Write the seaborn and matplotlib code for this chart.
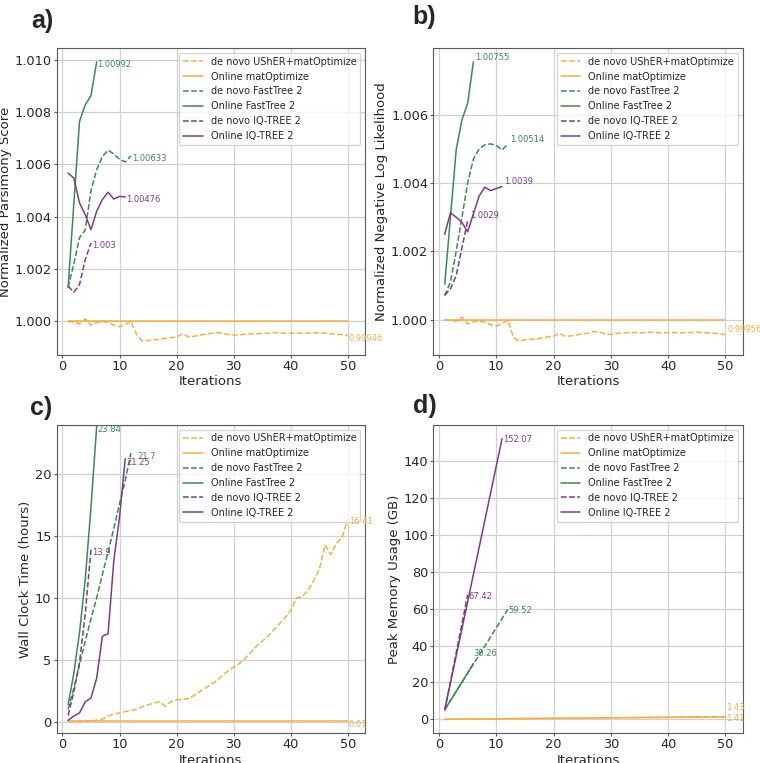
import pandas as pd
import matplotlib as mpl
from matplotlib import pyplot as plt
from matplotlib.ticker import FormatStrFormatter, MultipleLocator
import seaborn as sns

methods = ['de novo UShER+matOptimize', 'Online matOptimize', 'de novo FastTree 2',
           'Online FastTree 2', 'de novo IQ-TREE 2', 'Online IQ-TREE 2']

# a) normalized parsimony score
pars_usher = [1.0, 0.99998, 0.9999, 1.0001, 0.99985, 0.99995, 1.0, 0.99997, 0.99985, 0.9998,
              0.99988, 1.0, 0.9995, 0.99925, 0.99927, 0.9993, 0.99931, 0.99935, 0.99938, 0.9994,
              0.99953, 0.99942, 0.99943, 0.99948, 0.99951, 0.99954, 0.99957, 0.99955, 0.9995, 0.99948,
              0.99949, 0.99951, 0.99953, 0.99953, 0.99954, 0.99955, 0.99957, 0.99956, 0.99955, 0.99955,
              0.99956, 0.99955, 0.99955, 0.99957, 0.99956, 0.99955, 0.99953, 0.99951, 0.9995, 0.99946]
pars_online_mat = [1.0] * 50
pars_dn_ft = [1.0013, 1.0022, 1.0032, 1.0035, 1.005, 1.0058, 1.0063, 1.00655, 1.0064, 1.0062, 1.0061, 1.00633]
pars_on_ft = [1.0013, 1.0045, 1.00765, 1.00828, 1.00863, 1.00992]
pars_dn_iq = [1.00135, 1.00112, 1.00141, 1.00237, 1.003]
pars_on_iq = [1.00567, 1.00548, 1.00453, 1.00408, 1.00351, 1.00421, 1.00466, 1.00494, 1.00468, 1.00478, 1.00476]

# b) normalized negative log likelihood
lik_usher = [1.0, 0.99998, 0.99995, 1.00007, 0.99987, 0.99993, 0.99997, 0.99992, 0.99985, 0.99981,
             0.99988, 0.99998, 0.99948, 0.99937, 0.99941, 0.99942, 0.99943, 0.99946, 0.99949, 0.99951,
             0.9996, 0.99951, 0.99952, 0.99955, 0.99958, 0.9996, 0.99965, 0.99963, 0.99958, 0.99956,
             0.99959, 0.99961, 0.99962, 0.99962, 0.99961, 0.99962, 0.99963, 0.99962, 0.99961, 0.99962,
             0.99962, 0.99961, 0.99962, 0.99962, 0.99963, 0.99962, 0.99961, 0.9996, 0.99958, 0.99956]
lik_online_mat = [1.0] * 50
lik_dn_ft = [1.0007, 1.0011, 1.002, 1.003, 1.004, 1.0047, 1.005, 1.00512, 1.00515, 1.0051, 1.00497, 1.00514]
lik_on_ft = [1.00104, 1.003, 1.00498, 1.00585, 1.00634, 1.00755]
lik_dn_iq = [1.00071, 1.0009, 1.00129, 1.0021, 1.0029]
lik_on_iq = [1.0025, 1.00313, 1.003, 1.00285, 1.00257, 1.0031, 1.00362, 1.00388, 1.00378, 1.00384, 1.0039]

# c) wall clock time (hours)
time_usher = [0.0, 0.01, 0.02, 0.04, 0.05, 0.1, 0.2, 0.45, 0.6, 0.7,
              0.8, 0.9, 1.0, 1.2, 1.35, 1.5, 1.6, 1.25, 1.6, 1.75,
              1.8, 1.85, 2.1, 2.4, 2.7, 3.0, 3.3, 3.7, 4.1, 4.4,
              4.7, 5.1, 5.6, 6.1, 6.5, 6.9, 7.4, 7.9, 8.4, 9.0,
              10.0, 10.1, 10.6, 11.4, 12.3, 14.3, 13.5, 14.4, 14.9, 16.41]
time_online_mat = [0.01] * 50
time_dn_ft = [1.0, 2.7, 4.6, 6.5, 8.3, 10.0, 11.9, 13.7, 15.6, 17.6, 19.5, 21.7]
time_on_ft = [1.35, 3.9, 7.2, 11.5, 17.3, 23.84]
time_dn_iq = [0.5, 2.4, 4.8, 8.7, 13.9]
time_on_iq = [0.1, 0.45, 0.7, 1.6, 1.9, 3.5, 6.9, 7.1, 13.0, 16.5, 21.25]

# d) peak memory usage (GB)
mem_usher = [0.05, 0.08, 0.11, 0.13, 0.16, 0.19, 0.22, 0.25, 0.27, 0.30,
             0.33, 0.36, 0.39, 0.41, 0.44, 0.47, 0.50, 0.53, 0.55, 0.58,
             0.61, 0.64, 0.67, 0.69, 0.72, 0.75, 0.78, 0.81, 0.83, 0.86,
             0.89, 0.92, 0.95, 0.97, 1.00, 1.03, 1.06, 1.09, 1.11, 1.14,
             1.17, 1.20, 1.23, 1.25, 1.28, 1.31, 1.34, 1.37, 1.40, 1.43]
mem_online_mat = [0.04, 0.07, 0.10, 0.12, 0.15, 0.18, 0.21, 0.24, 0.26, 0.29,
                  0.32, 0.35, 0.38, 0.40, 0.43, 0.46, 0.49, 0.52, 0.54, 0.57,
                  0.60, 0.63, 0.66, 0.68, 0.71, 0.74, 0.77, 0.80, 0.82, 0.85,
                  0.88, 0.91, 0.94, 0.96, 0.99, 1.02, 1.05, 1.08, 1.10, 1.13,
                  1.16, 1.19, 1.22, 1.24, 1.27, 1.30, 1.33, 1.36, 1.38, 1.41]
mem_dn_ft = [5.2, 10.2, 15.1, 20.0, 24.9, 29.9, 34.8, 39.7, 44.7, 49.6, 54.6, 59.52]
mem_on_ft = [5.2, 10.2, 15.2, 20.2, 25.2, 30.26]
mem_dn_iq = [5.0, 20.6, 36.1, 51.8, 67.42]
mem_on_iq = [5.1, 19.8, 34.4, 49.0, 63.7, 78.5, 93.1, 107.8, 122.6, 137.3, 152.07]

orange, green, purple = '#F4AE45', '#3A8A52', '#7A3D86'
palette = dict(zip(methods, [orange, orange, green, green, purple, purple]))
dashes = dict(zip(methods, [(3.7, 1.6), '', (3.7, 1.6), '', (3.7, 1.6), '']))

sns.set_style('whitegrid', {'axes.edgecolor': '0.35', 'grid.color': '0.82',
                            'xtick.bottom': True, 'ytick.left': True})
plt.rcParams['font.family'] = ['DejaVu Sans']
plt.rcParams['grid.linewidth'] = 0.9

fig = plt.figure(figsize=(7.6, 7.63), dpi=100)
rects = {'a': [0.0746, 0.5347, 0.4057, 0.4024], 'b': [0.5701, 0.5347, 0.4071, 0.4024],
         'c': [0.0746, 0.0389, 0.4057, 0.4045], 'd': [0.5701, 0.0389, 0.4071, 0.4045]}


def draw(ax, series, ylabel, nd, labelled, offs, default_off):
    frames = []
    for m, vals in zip(methods, series):
        frames.append(pd.DataFrame({'Iterations': range(1, len(vals) + 1), 'value': vals, 'method': m}))
    df = pd.concat(frames, ignore_index=True)
    sns.lineplot(data=df, x='Iterations', y='value', hue='method', style='method',
                 hue_order=methods, style_order=methods, palette=palette, dashes=dashes,
                 lw=1.1, ax=ax)
    for m, vals in zip(methods, series):
        if m not in labelled:
            continue
        txt = str(round(vals[-1], nd))
        ax.annotate(txt, (len(vals), vals[-1]), xytext=offs.get(m, default_off),
                    textcoords='offset points', fontsize=6, color=palette[m], va='center',
                    zorder=7, annotation_clip=False)
    ax.set_xlim(-1, 53)
    ax.xaxis.set_major_locator(MultipleLocator(10))
    ax.set_xlabel('Iterations', fontsize=9.5, labelpad=1.5)
    ax.set_ylabel(ylabel, fontsize=9.5, labelpad=2)
    ax.tick_params(labelsize=9.3, length=2.5, width=0.8, pad=1.2, color='0.35')
    sns.move_legend(ax, 'upper right', title=None, fontsize=7, frameon=True)


ax_a = fig.add_axes(rects['a'])
draw(ax_a, [pars_usher, pars_online_mat, pars_dn_ft, pars_on_ft, pars_dn_iq, pars_on_iq],
     'Normalized Parsimony Score', 5, [m for m in methods if m != 'Online matOptimize'], {}, (0.5, -2))
ax_a.yaxis.set_major_locator(MultipleLocator(0.002))
ax_a.yaxis.set_major_formatter(FormatStrFormatter('%.3f'))

ax_b = fig.add_axes(rects['b'])
draw(ax_b, [lik_usher, lik_online_mat, lik_dn_ft, lik_on_ft, lik_dn_iq, lik_on_iq],
     'Normalized Negative Log Likelihood', 5, [m for m in methods if m != 'Online matOptimize'], {}, (1.5, 3.5))
ax_b.yaxis.set_major_locator(MultipleLocator(0.002))
ax_b.yaxis.set_major_formatter(FormatStrFormatter('%.3f'))

ax_c = fig.add_axes(rects['c'])
draw(ax_c, [time_usher, time_online_mat, time_dn_ft, time_on_ft, time_dn_iq, time_on_iq],
     'Wall Clock Time (hours)', 2, methods, {'de novo FastTree 2': (4.3, -2.4)}, (0.7, -2.4))
ax_c.axhline(24, ls=':', color='0.5', lw=1)
ax_c.set_ylim(-0.95, 24)

ax_d = fig.add_axes(rects['d'])
draw(ax_d, [mem_usher, mem_online_mat, mem_dn_ft, mem_on_ft, mem_dn_iq, mem_on_iq],
     'Peak Memory Usage (GB)', 2, methods,
     {'Online FastTree 2': (0, 7), 'de novo UShER+matOptimize': (0.7, 7)}, (0.7, -0.9))

for letter, (x, y) in zip('abcd', [(31, 21), (412, 17), (30, 408), (413, 406)]):
    fig.text(x / 760, 1 - y / 763, letter + ')', fontsize=18, fontweight='bold',
             family='Liberation Sans', ha='left', va='center')

fig.savefig('out.png', dpi=100)
